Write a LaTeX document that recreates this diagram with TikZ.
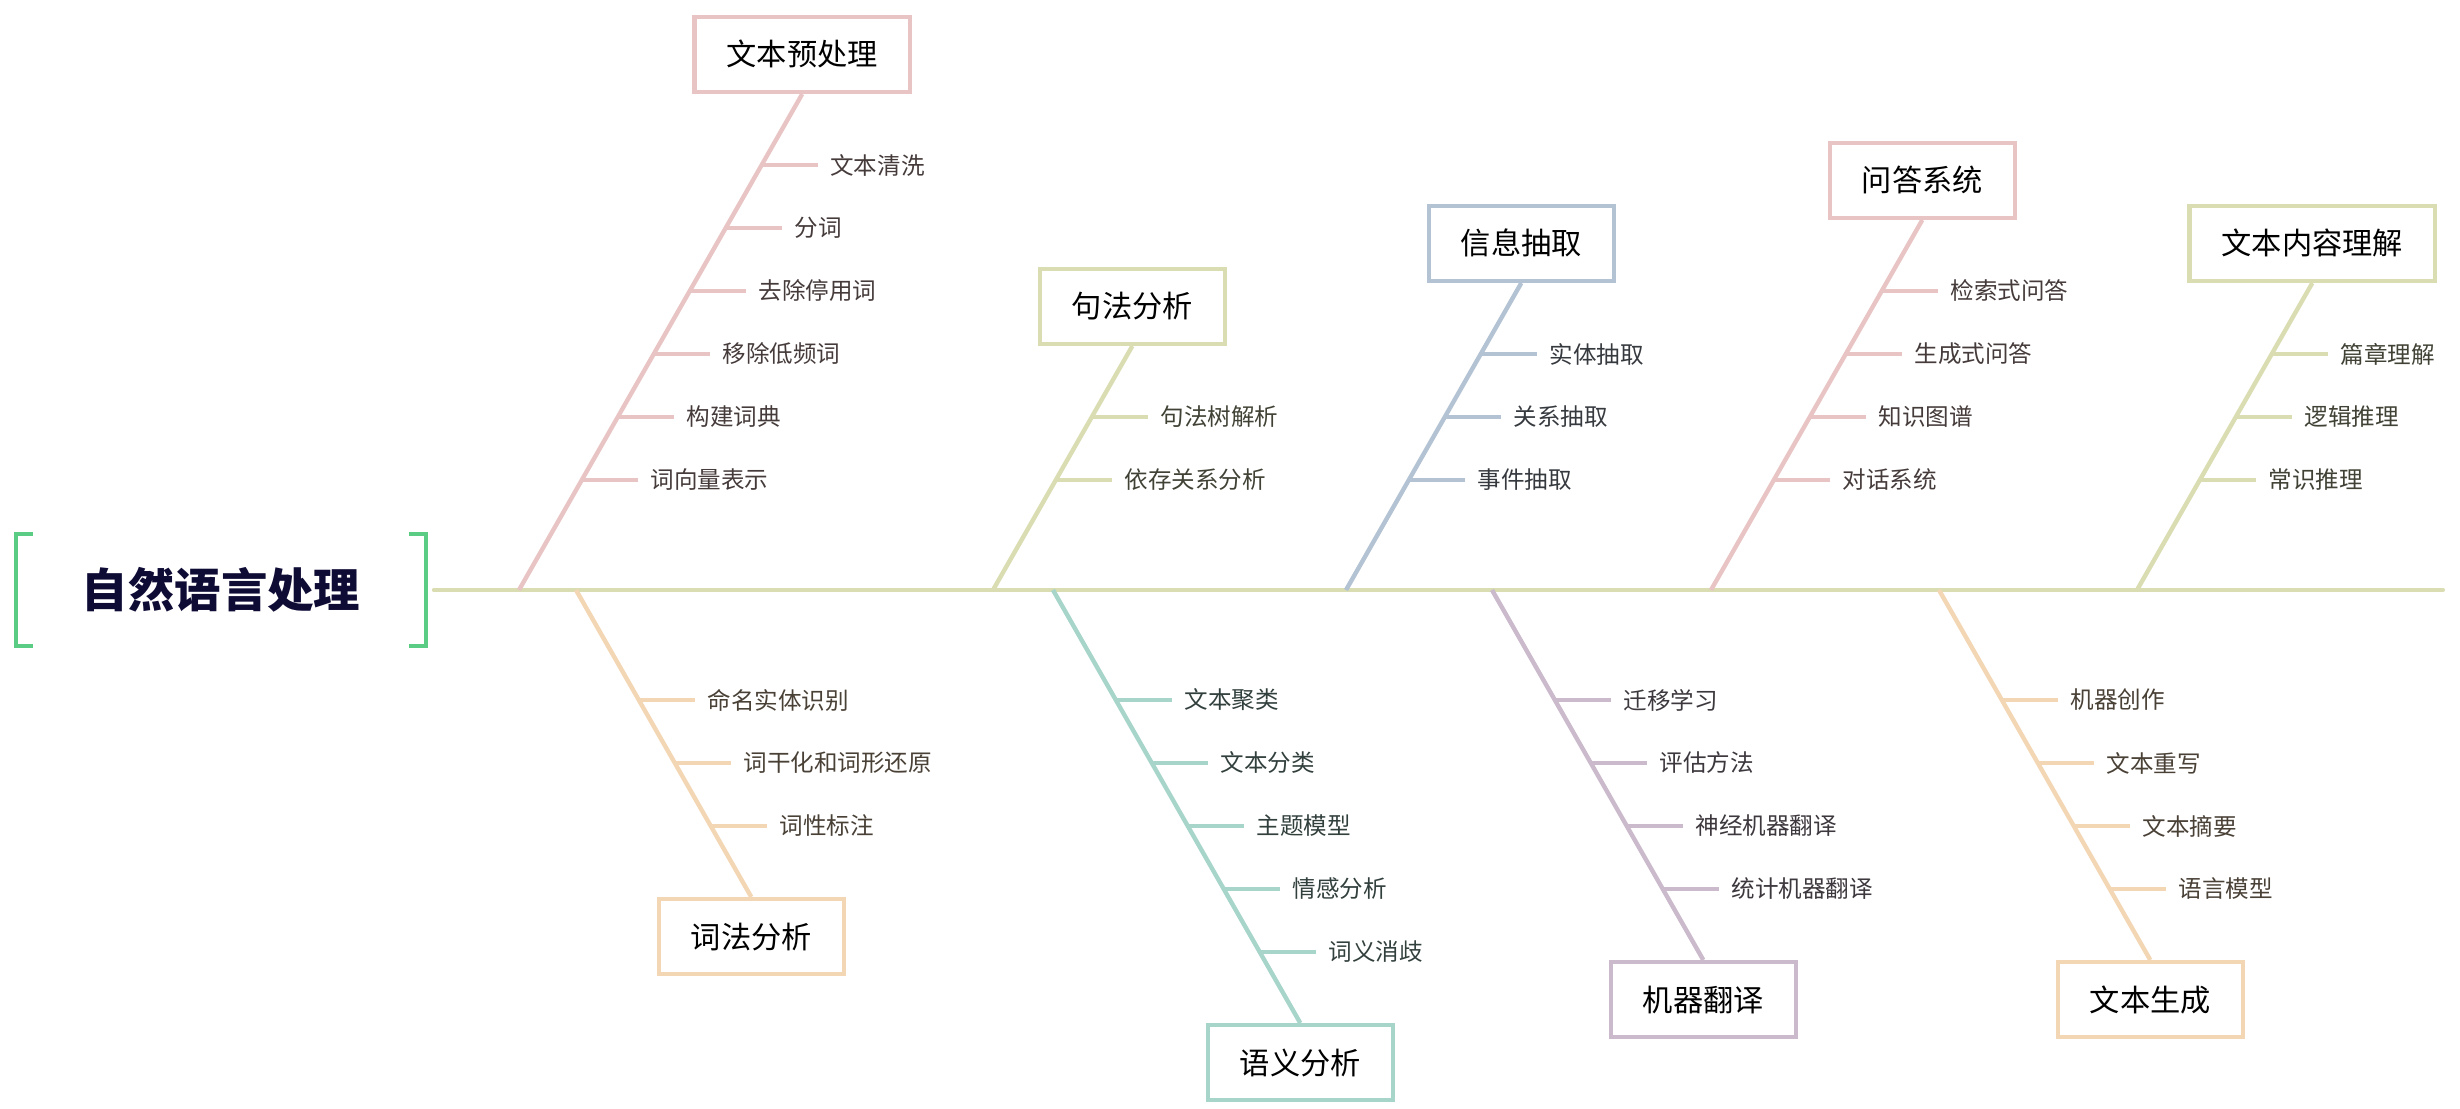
\documentclass[tikz,border=0pt]{standalone}
\usepackage{fontspec}
\setmainfont{Noto Sans CJK SC}

\definecolor{rosec}{HTML}{E8C5C4}
\definecolor{olivec}{HTML}{D9DDB1}
\definecolor{steelc}{HTML}{B3C3D3}
\definecolor{tealc}{HTML}{A8D5CA}
\definecolor{mauvec}{HTML}{CABACB}
\definecolor{peachc}{HTML}{F3D6B4}
\definecolor{greenc}{HTML}{5BCC84}
\definecolor{rootc}{HTML}{0E0B35}

\begin{document}
\begin{tikzpicture}[x=0.01cm,y=0.01cm,
    every node/.style={font=\fontsize{6.7}{8}\selectfont},
    title/.style={draw=#1,line width=1.25pt,fill=white,inner xsep=0.32cm,
      minimum height=0.75cm,font=\fontsize{8.6}{10}\selectfont},
    item/.style={anchor=west,inner xsep=0.12cm,inner ysep=0pt,text=#1!30!black},
    bone/.style={draw=#1,line width=1.25pt},
    tick/.style={draw=#1,line width=0.9pt},
    brk/.style={draw=greenc,line width=1.15pt}]
  \useasboundingbox (0,0) rectangle (2460,1109);

  % head
  \node[minimum width=4.08cm,minimum height=1.11cm,text=rootc,
    font=\fontsize{13.2}{15}\selectfont\bfseries] (root) at (221,519) {自然语言处理};
  \draw[brk] ([xshift=0.17cm]root.north west) -- (root.north west)
    -- (root.south west) -- ([xshift=0.17cm]root.south west);
  \draw[brk] ([xshift=-0.17cm]root.north east) -- (root.north east)
    -- (root.south east) -- ([xshift=-0.17cm]root.south east);

  % spine
  \coordinate (tail) at (2443,519);
  \draw[olivec,line width=1.15pt,line cap=round,shorten <=0.08cm] (root.east) -- (tail);

  % upper bones, items from the spine upwards
  \foreach \sx/\col/\n/\lab/\subs [count=\b] in {
      519/rosec/6/文本预处理/{词向量表示,构建词典,移除低频词,去除停用词,分词,文本清洗},
      993/olivec/2/句法分析/{依存关系分析,句法树解析},
      1346/steelc/3/信息抽取/{事件抽取,关系抽取,实体抽取},
      1711/rosec/4/问答系统/{对话系统,知识图谱,生成式问答,检索式问答},
      2137/olivec/3/文本内容理解/{常识推理,逻辑推理,篇章理解}} {
    \coordinate (us\b) at (\sx,519);
    \node[title=\col,anchor=south] (u\b) at ({\sx+0.571*(118+63*\n)},{637+63*\n}) {\lab};
    \draw[bone=\col] (us\b) -- (u\b.south);
    \foreach \sub [count=\k] in \subs {
      \coordinate (ut\b-\k) at ({\sx+0.571*(47+63*\k)},{566+63*\k});
      \node[item=\col] (u\b-\k) at ([xshift=0.56cm]ut\b-\k) {\sub};
      \draw[tick=\col] (ut\b-\k) -- (u\b-\k.west);
    }
  }

  % lower bones, items from the spine downwards
  \foreach \sx/\col/\n/\lab/\subs [count=\b] in {
      576/peachc/3/词法分析/{命名实体识别,词干化和词形还原,词性标注},
      1053/tealc/5/语义分析/{文本聚类,文本分类,主题模型,情感分析,词义消歧},
      1492/mauvec/4/机器翻译/{迁移学习,评估方法,神经机器翻译,统计机器翻译},
      1939/peachc/4/文本生成/{机器创作,文本重写,文本摘要,语言模型}} {
    \coordinate (ls\b) at (\sx,519);
    \node[title=\col,anchor=north] (l\b) at ({\sx+0.571*(118+63*\n)},{401-63*\n}) {\lab};
    \draw[bone=\col] (ls\b) -- (l\b.north);
    \foreach \sub [count=\k] in \subs {
      \coordinate (lt\b-\k) at ({\sx+0.571*(47+63*\k)},{472-63*\k});
      \node[item=\col] (l\b-\k) at ([xshift=0.56cm]lt\b-\k) {\sub};
      \draw[tick=\col] (lt\b-\k) -- (l\b-\k.west);
    }
  }
\end{tikzpicture}
\end{document}
